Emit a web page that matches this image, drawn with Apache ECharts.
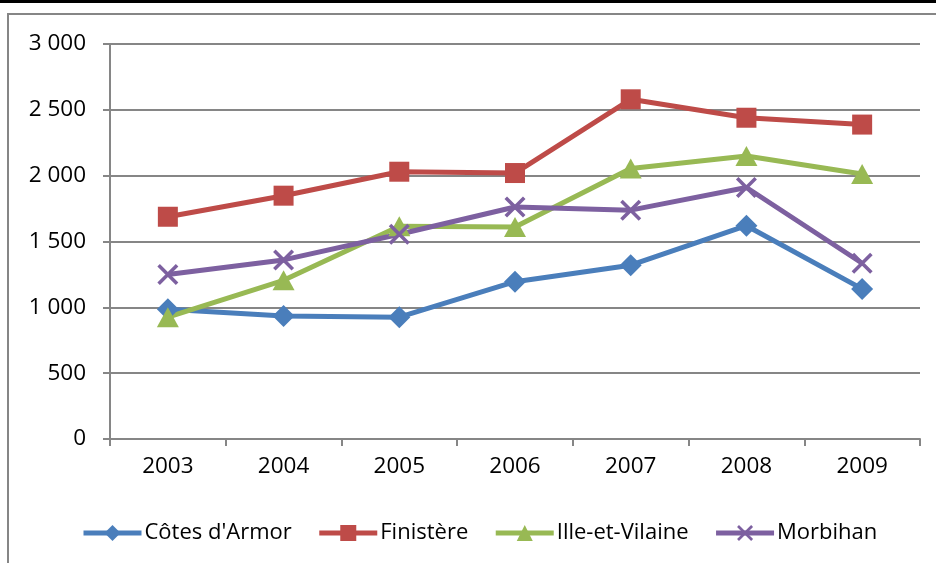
<!DOCTYPE html>
<html>
<head>
<meta charset="utf-8">
<script src="https://cdn.jsdelivr.net/npm/echarts@6/dist/echarts.min.js"></script>
<style>
html,body{margin:0;padding:0;background:#fff;}
#chart{width:936px;height:563px;}
</style>
</head>
<body>
<div id="chart"></div>
<script>
const years = ['2003','2004','2005','2006','2007','2008','2009'];
const cotesArmor = [985, 935, 925, 1195, 1320, 1620, 1140];
const finistere = [1688, 1848, 2030, 2020, 2580, 2440, 2388];
const illeEtVilaine = [925, 1205, 1615, 1610, 2055, 2150, 2013];
const morbihan = [1250, 1360, 1555, 1762, 1738, 1910, 1335];
const yTicks = [0, 500, 1000, 1500, 2000, 2500, 3000];

const FONT = "'Open Sans', sans-serif";
const GRAY = '#868686';
const xPath = 'path://M0,1.2L1.2,0L10,8.8L8.8,10Z M8.8,0L10,1.2L1.2,10L0,8.8Z';

const chart = echarts.init(document.getElementById('chart'), null, {renderer: 'canvas'});
function fmt(v){ return String(v).replace(/\B(?=(\d{3})+(?!\d))/g, ' '); }
function mk(name, data, color, symbol, size){
  return {
    name, type: 'line', data, symbol, symbolSize: size,
    showAllSymbol: true,
    lineStyle: {color, width: 5},
    itemStyle: {color, borderWidth: 0},
    emphasis: {disabled: true},
    animation: false
  };
}
chart.setOption({
  animation: false,
  backgroundColor: '#fff',
  graphic: [
    {type: 'rect', shape: {x: 0, y: 0, width: 936, height: 3}, style: {fill: '#000'}, silent: true},
    {type: 'rect', shape: {x: 8, y: 14, width: 940, height: 560}, style: {fill: 'none', stroke: GRAY, lineWidth: 2}, silent: true}
  ],
  grid: {left: 110, right: 16, top: 44, bottom: 124, containLabel: false},
  legend: {
    left: 76, top: 517,
    itemWidth: 58, itemHeight: 20, itemGap: 25,
    lineStyle: {width: 5},
    textStyle: {fontFamily: FONT, fontSize: 22, color: '#000', padding: [0,0,0,-2]},
    data: ["Côtes d'Armor", 'Finistère', 'Ille-et-Vilaine', 'Morbihan']
  },
  xAxis: {
    type: 'category', data: years, boundaryGap: true,
    axisLine: {lineStyle: {color: GRAY, width: 2}},
    axisTick: {show: true, length: 7, lineStyle: {color: GRAY, width: 2}},
    axisLabel: {fontFamily: FONT, fontSize: 22.5, color: '#000', margin: 16},
    splitLine: {show: false}
  },
  yAxis: {
    type: 'value', min: 0, max: 3000, interval: 500,
    axisLine: {show: true, lineStyle: {color: GRAY, width: 2}},
    axisTick: {show: true, length: 7, lineStyle: {color: GRAY, width: 2}},
    axisLabel: {fontFamily: FONT, fontSize: 22.5, color: '#000', margin: 24,
      formatter: v => yTicks.includes(v) ? fmt(v) : ''},
    splitLine: {lineStyle: {color: GRAY, width: 2}}
  },
  series: [
    mk("Côtes d'Armor", cotesArmor, '#4A7EBB', 'diamond', [22, 22]),
    mk('Finistère', finistere, '#BE4B48', 'rect', 20),
    mk('Ille-et-Vilaine', illeEtVilaine, '#98B954', 'triangle', [22, 20]),
    mk('Morbihan', morbihan, '#7D60A0', xPath, 21)
  ]
});
</script>
</body>
</html>
